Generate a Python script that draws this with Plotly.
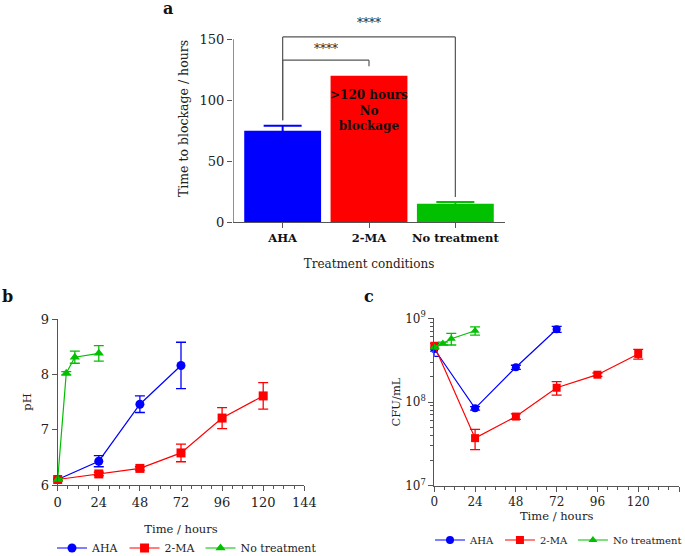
"""Time to blockage, pH and CFU panels (a, b, c) rebuilt in plotly."""
import plotly.graph_objects as go

# ---- data ----
categories = ["AHA", "2-MA", "No treatment"]
blockage_hours = [75, 120, 15]
blockage_err = [4, 0, 1.5]

time_aha = [0, 24, 48, 72]
time_2ma = [0, 24, 48, 72, 96, 120]
time_nt = [0, 5, 10, 24]

ph_aha = [6.10, 6.43, 7.46, 8.16]
ph_aha_err = [0.03, 0.10, 0.15, 0.42]
ph_2ma = [6.10, 6.20, 6.30, 6.58, 7.21, 7.61]
ph_2ma_err = [0.02, 0.03, 0.03, 0.16, 0.19, 0.24]
ph_nt = [6.10, 8.02, 8.31, 8.38]
ph_nt_err = [0.02, 0.03, 0.11, 0.14]

cfu_aha = [4.3e8, 8.4e7, 2.6e8, 7.4e8]
cfu_aha_err = [0.8e8, 0.4e7, 0.15e8, 0.6e8]
cfu_2ma = [4.7e8, 3.7e7, 6.7e7, 1.48e8, 2.12e8, 3.75e8]
cfu_2ma_err = [0.3e8, 1.0e7, 0.5e7, 0.27e8, 0.1e8, 0.5e8]
cfu_nt = [4.5e8, 5.0e8, 5.7e8, 7.1e8]
cfu_nt_err = [0.2e8, 0.2e8, 0.9e8, 0.8e8]

# significance brackets: (from, to, top of bracket, start height, end height)
brackets = [(0, 1, 132.8, 83.5, 127.8), (0, 2, 151.9, 83.5, 20.5)]
star_pos = [(0.5, 142), (1, 163.3)]

BLUE = "#0000ff"
RED = "#ff0000"
GREEN = "#00c000"
FONT = "DejaVu Serif"
INK = "#222222"
AXIS = "#555555"

fig = go.Figure()

# ---- panel a ----
bar_colors = [BLUE, RED, GREEN]
for i, cat in enumerate(categories):
    err = dict(type="data", array=[blockage_err[i]], color=bar_colors[i], thickness=2, width=19,
               visible=blockage_err[i] > 0)
    fig.add_trace(go.Bar(
        x=[cat], y=[blockage_hours[i]], marker=dict(color=bar_colors[i], line=dict(width=0)),
        width=0.89, error_y=err, showlegend=False, xaxis="x", yaxis="y",
    ))

# ---- panel b / c ----
series = [
    ("AHA", BLUE, "circle", time_aha, ph_aha, ph_aha_err, cfu_aha, cfu_aha_err),
    ("2-MA", RED, "square", time_2ma, ph_2ma, ph_2ma_err, cfu_2ma, cfu_2ma_err),
    ("No treatment", GREEN, "triangle-up", time_nt, ph_nt, ph_nt_err, cfu_nt, cfu_nt_err),
]
for name, color, symbol, t, ph, ph_err, cfu, cfu_err in series:
    fig.add_trace(go.Scatter(
        x=t, y=ph, mode="lines+markers", name=name,
        line=dict(color=color, width=1.2),
        marker=dict(color=color, symbol=symbol, size=9),
        error_y=dict(type="data", array=ph_err, color=color, thickness=1.3, width=5),
        cliponaxis=False, xaxis="x2", yaxis="y2", legend="legend",
    ))
    fig.add_trace(go.Scatter(
        x=t, y=cfu, mode="lines+markers", name=name,
        line=dict(color=color, width=1.2),
        marker=dict(color=color, symbol=symbol, size=8),
        error_y=dict(type="data", array=cfu_err, color=color, thickness=1.3, width=5),
        cliponaxis=False, xaxis="x3", yaxis="y3", legend="legend2",
    ))

tick_common = dict(ticks="outside", ticklen=5, tickwidth=1, tickcolor=AXIS,
                   showline=True, linecolor=AXIS, linewidth=1.3, showgrid=False,
                   zeroline=False, tickfont=dict(family=FONT, size=13, color=INK))

shapes = []
# y axis line of panel a (axis range extends above 150 to fit brackets)
shapes.append(dict(type="line", xref="x", yref="y", x0=-0.575, x1=-0.575, y0=0, y1=150,
                   line=dict(color=AXIS, width=1.3)))
for a, b, top, y_a, y_b in brackets:
    line = dict(color=AXIS, width=1.2)
    shapes.append(dict(type="line", xref="x", yref="y", x0=a, x1=a, y0=y_a, y1=top, line=line))
    shapes.append(dict(type="line", xref="x", yref="y", x0=a, x1=b, y0=top, y1=top, line=line))
    shapes.append(dict(type="line", xref="x", yref="y", x0=b, x1=b, y0=top, y1=y_b, line=line))

label_font = dict(family=FONT, size=16, color="#111")
annotations = [
    dict(text="<b>>120 hours<br>No<br>blockage</b>", x=1, y=91.3, xref="x", yref="y",
         showarrow=False, font=dict(family=FONT, size=12, color="#111")),
    dict(text="<b>a</b>", x=168 / 685, y=1 - 8 / 556, xref="paper", yref="paper",
         xanchor="center", yanchor="middle", showarrow=False, font=label_font),
    dict(text="<b>b</b>", x=7 / 685, y=1 - 296 / 556, xref="paper", yref="paper",
         xanchor="center", yanchor="middle", showarrow=False, font=label_font),
    dict(text="<b>c</b>", x=369 / 685, y=1 - 296 / 556, xref="paper", yref="paper",
         xanchor="center", yanchor="middle", showarrow=False, font=label_font),
]
for sx, sy in star_pos:
    annotations.append(dict(text="****", x=sx, y=sy, xref="x", yref="y", showarrow=False,
                            font=dict(family=FONT, size=12, color=INK)))

minor_log = [m * 10 ** e for e in (7, 8) for m in range(2, 10)]

fig.update_layout(
    width=685, height=556,
    margin=dict(l=0, r=0, t=0, b=0, autoexpand=False),
    paper_bgcolor="white", plot_bgcolor="white",
    barmode="overlay",
    font=dict(family=FONT, color=INK),
    xaxis=dict(**{**tick_common, "tickfont": dict(family=FONT, size=11.5, color="#111", weight="bold")},
               domain=[233 / 685, 505 / 685], range=[-0.575, 2.575], anchor="y",
               title=dict(text="Treatment conditions", font=dict(family=FONT, size=12, color=INK),
                          standoff=15)),
    yaxis=dict(**{**tick_common, "showline": False}, domain=[1 - 222 / 556, 1 - 14.9 / 556],
               range=[0, 170], tickvals=[0, 50, 100, 150], anchor="x",
               title=dict(text="Time to blockage / hours", font=dict(family=FONT, size=12.5, color=INK),
                          standoff=8)),
    xaxis2=dict(**tick_common, domain=[57.7 / 685, 304.3 / 685], range=[0, 144], dtick=24,
                anchor="y2", minor=dict(dtick=6, ticks="outside", ticklen=3, tickcolor=AXIS),
                title=dict(text="Time / hours", font=dict(family=FONT, size=11.5, color=INK), standoff=16)),
    yaxis2=dict(**tick_common, domain=[1 - 485 / 556, 1 - 319 / 556], range=[6, 9], dtick=1,
                anchor="x2",
                title=dict(text="pH", font=dict(family=FONT, size=11.5, color=INK), standoff=6)),
    xaxis3=dict(**{**tick_common, "tickfont": dict(family=FONT, size=12, color=INK)},
                domain=[434.3 / 685, 679 / 685], range=[0, 144], dtick=24,
                anchor="y3", minor=dict(dtick=6, ticks="outside", ticklen=3, tickcolor=AXIS),
                title=dict(text="Time / hours", font=dict(family=FONT, size=11.5, color=INK), standoff=0)),
    yaxis3=dict(**{**tick_common, "tickfont": dict(family=FONT, size=12, color=INK)},
                type="log", domain=[1 - 485.7 / 556, 1 - 318.3 / 556], range=[7, 9],
                tickvals=[1e7, 1e8, 1e9],
                ticktext=["10<sup>7</sup>", "10<sup>8</sup>", "10<sup>9</sup>"],
                minor=dict(tickvals=minor_log, ticks="outside", ticklen=3, tickcolor=AXIS),
                anchor="x3",
                title=dict(text="CFU/mL", font=dict(family=FONT, size=11.5, color=INK), standoff=2)),
    legend=dict(orientation="h", x=52 / 685, y=1 - 548 / 556, yanchor="middle", xanchor="left",
                font=dict(family=FONT, size=11, color=INK), bgcolor="rgba(0,0,0,0)"),
    legend2=dict(orientation="h", x=430 / 685, y=1 - 540 / 556, yanchor="middle", xanchor="left",
                 font=dict(family=FONT, size=10, color=INK), bgcolor="rgba(0,0,0,0)"),
    shapes=shapes,
    annotations=annotations,
)

# page body has a default 8px margin; drop it so the figure sits at the window corner
fig.write_html("out.html", config={"displayModeBar": False},
               post_script="document.body.style.margin = '0';")
